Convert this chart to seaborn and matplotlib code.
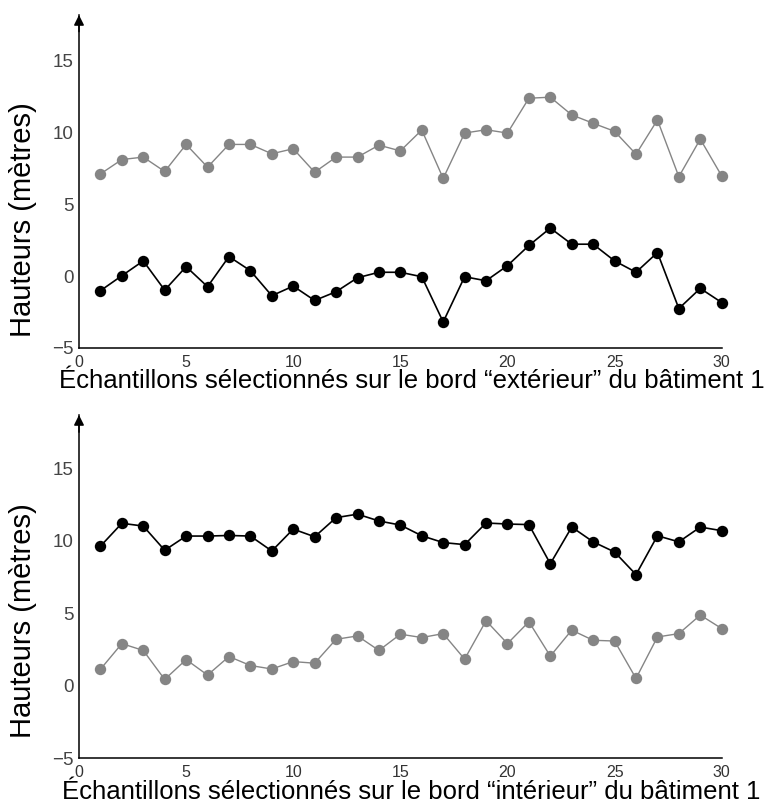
import matplotlib
matplotlib.use("Agg")
import matplotlib.pyplot as plt
import seaborn as sns
import numpy as np
import pandas as pd

samples = list(range(1, 31))

# Top panel: "extérieur" edge
top_gray = [7.09, 8.09, 8.26, 7.26, 9.14, 7.56, 9.14, 9.14, 8.49, 8.84,
            7.21, 8.26, 8.26, 9.09, 8.69, 10.14, 6.78, 9.93, 10.16, 9.93,
            12.35, 12.42, 11.19, 10.61, 10.05, 8.46, 10.84, 6.90, 9.51, 6.95]
top_black = [-1.02, 0.02, 1.05, -0.98, 0.65, -0.74, 1.35, 0.37, -1.37, -0.70,
             -1.70, -1.09, -0.12, 0.26, 0.26, -0.05, -3.19, -0.05, -0.33, 0.72,
             2.12, 3.33, 2.21, 2.21, 1.05, 0.26, 1.63, -2.26, -0.86, -1.84]

# Bottom panel: "intérieur" edge
bot_black = [9.63, 11.21, 11.02, 9.35, 10.33, 10.33, 10.37, 10.33, 9.30, 10.81,
             10.28, 11.60, 11.84, 11.37, 11.09, 10.35, 9.88, 9.74, 11.23, 11.16,
             11.12, 8.42, 10.95, 9.93, 9.23, 7.67, 10.35, 9.93, 10.95, 10.70]
bot_gray = [1.14, 2.91, 2.44, 0.44, 1.81, 0.74, 2.02, 1.40, 1.16, 1.67,
            1.56, 3.21, 3.44, 2.44, 3.56, 3.33, 3.60, 1.84, 4.49, 2.91,
            4.42, 2.05, 3.84, 3.14, 3.09, 0.51, 3.37, 3.60, 4.88, 3.95]

xticks = [0, 5, 10, 15, 20, 25, 30]
yticks = [-5, 0, 5, 10, 15]
ylabel = "Hauteurs (mètres)"
xlabel_top = "Échantillons sélectionnés sur le bord “extérieur” du bâtiment 1"
xlabel_bot = "Échantillons sélectionnés sur le bord “intérieur” du bâtiment 1"

sns.set_style("white")
plt.rcParams['font.family'] = ['Liberation Sans', 'DejaVu Sans']

W, H = 769, 808
fig = plt.figure(figsize=(W / 100, H / 100), dpi=100)

GRAY = '#858585'
BLACK = '#000000'

def px_axes(left_px, right_px, top_px, bottom_px):
    return [left_px / W, 1 - bottom_px / H, (right_px - left_px) / W, (bottom_px - top_px) / H]

panels = [
    dict(rect=px_axes(79, 721.7, 15, 348), ytop=18.13, series=[(top_gray, GRAY, 1.0), (top_black, BLACK, 1.2)],
         xlabel=xlabel_top, ylab_y=0.385, xlab_y=-0.064),
    dict(rect=px_axes(79, 721.7, 415, 758.3), ytop=18.68, series=[(bot_black, BLACK, 1.2), (bot_gray, GRAY, 1.0)],
         xlabel=xlabel_bot, ylab_y=0.40, xlab_y=-0.062),
]

for p in panels:
    ax = fig.add_axes(p['rect'])
    for vals, col, lw in p['series']:
        df = pd.DataFrame({'x': samples, 'y': vals})
        sns.lineplot(data=df, x='x', y='y', ax=ax, color=col, linewidth=lw,
                     marker='o', markersize=8.2, markeredgewidth=0,
                     markerfacecolor=col, legend=False, clip_on=False)
    ax.set_xlim(0, 30)
    ax.set_ylim(-5, p['ytop'])
    ax.set_xticks(xticks)
    ax.set_yticks(yticks)
    for s in ['top', 'right']:
        ax.spines[s].set_visible(False)
    for s in ['left', 'bottom']:
        ax.spines[s].set_color('black')
        ax.spines[s].set_linewidth(1.1)
    ax.tick_params(axis='both', direction='in', length=4, width=1.0, color='black')
    ax.tick_params(axis='x', labelsize=11.5, pad=5, labelcolor='#333333')
    ax.tick_params(axis='y', labelsize=13.5, pad=4, labelcolor='#444444')
    ax.set_xlabel(p['xlabel'], fontsize=18.5, color='black', va='top')
    ax.xaxis.set_label_coords((411.5 - 79) / 642.7, p['xlab_y'])
    ax.set_ylabel(ylabel, fontsize=21, color='black', va='center')
    ax.yaxis.set_label_coords((23 - 79) / 642.7, p['ylab_y'])
    ax.annotate('', xy=(0, 1), xycoords='axes fraction', xytext=(0, 0.95),
                arrowprops=dict(arrowstyle='-|>', color='black', lw=1.1,
                                mutation_scale=15, shrinkA=0, shrinkB=0))

fig.savefig('out.png', dpi=100)
